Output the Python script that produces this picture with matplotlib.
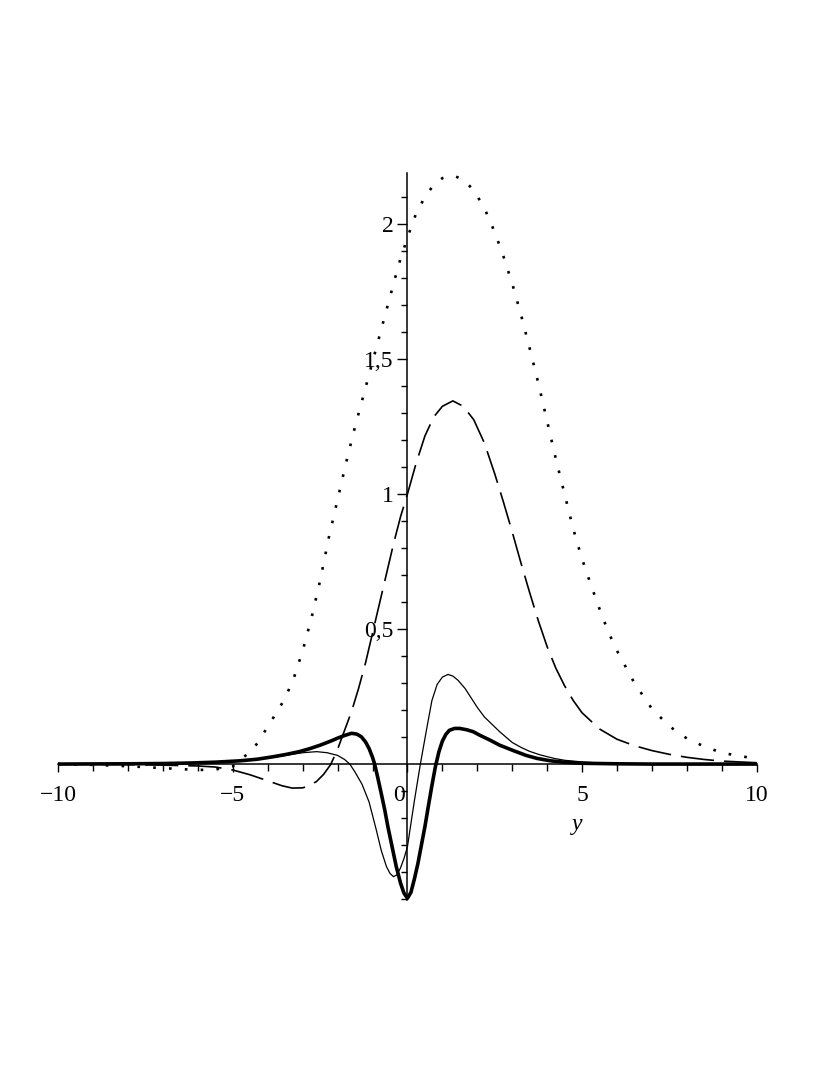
import matplotlib
matplotlib.use("Agg")
import matplotlib.pyplot as plt
import matplotlib.transforms as mtransforms

plt.rcParams.update({"font.family": "Liberation Serif", "font.size": 17})

# dotted curve
x_dot = [-10, -9, -8, -7, -6, -5.5, -5, -4.75, -4.5, -4.25, -4, -3.75, -3.5, -3.25,
         -3, -2.75, -2.5, -2.25, -2, -1.75, -1.5, -1.25, -1, -0.75, -0.5, -0.25,
         0, 0.25, 0.5, 0.75, 1, 1.3, 1.6, 1.9, 2.2, 2.5, 2.75, 3, 3.25, 3.5, 3.75,
         4, 4.25, 4.5, 4.75, 5, 5.25, 5.5, 5.75, 6, 6.5, 7, 7.5, 8, 8.5, 9, 9.5, 10]
y_dot = [0.0, -0.003, -0.008, -0.015, -0.022, -0.02, -0.008, 0.02, 0.045, 0.085,
         0.14, 0.19, 0.245, 0.32, 0.42, 0.54, 0.68, 0.84, 0.98, 1.12, 1.25, 1.37,
         1.49, 1.61, 1.73, 1.85, 1.95, 2.04, 2.10, 2.145, 2.17, 2.18, 2.165, 2.125,
         2.06, 1.97, 1.88, 1.78, 1.665, 1.54, 1.41, 1.27, 1.13, 1.0, 0.87, 0.76,
         0.665, 0.575, 0.49, 0.42, 0.30, 0.205, 0.14, 0.095, 0.065, 0.042, 0.03, 0.02]

# dashed curve
x_dash = [-10, -8, -7, -6, -5.5, -5, -4.5, -4, -3.6, -3.3, -3.0, -2.8, -2.6, -2.4,
          -2.2, -2.0, -1.8, -1.6, -1.4, -1.2, -1.0, -0.8, -0.6, -0.4, -0.2, 0, 0.25,
          0.5, 0.75, 1.0, 1.3, 1.6, 1.9, 2.2, 2.5, 2.75, 3.0, 3.25, 3.5, 3.75, 4.0,
          4.25, 4.5, 4.75, 5.0, 5.5, 6, 6.5, 7, 7.5, 8, 8.5, 9, 10]
y_dash = [0.0, -0.002, -0.004, -0.007, -0.011, -0.022, -0.04, -0.062, -0.08, -0.089,
          -0.088, -0.08, -0.064, -0.038, -0.002, 0.055, 0.125, 0.195, 0.28, 0.375,
          0.485, 0.595, 0.705, 0.815, 0.915, 1.0, 1.115, 1.215, 1.285, 1.325, 1.345,
          1.325, 1.275, 1.19, 1.075, 0.97, 0.86, 0.745, 0.635, 0.53, 0.435, 0.355,
          0.29, 0.235, 0.19, 0.13, 0.092, 0.068, 0.05, 0.036, 0.025, 0.017, 0.011,
          0.005]

# thin solid curve
x_thin = [-10, -8, -7, -6, -5, -4.5, -4, -3.5, -3.0, -2.6, -2.3, -2.0, -1.8, -1.65,
          -1.5, -1.3, -1.1, -0.9, -0.75, -0.6, -0.5, -0.4, -0.3, -0.2, -0.1, 0, 0.1,
          0.2, 0.37, 0.55, 0.7, 0.85, 1.0, 1.16, 1.3, 1.45, 1.65, 1.8, 2.0, 2.2, 2.4,
          2.64, 3.0, 3.25, 3.5, 3.8, 4.2, 4.5, 5, 5.5, 6, 7, 8, 10]
y_thin = [0.0, 0.001, 0.002, 0.005, 0.01, 0.015, 0.022, 0.032, 0.042, 0.046, 0.042,
          0.032, 0.017, 0.0, -0.03, -0.075, -0.14, -0.24, -0.32, -0.38, -0.405,
          -0.417, -0.41, -0.385, -0.35, -0.306, -0.22, -0.135, 0.0, 0.13, 0.235,
          0.295, 0.322, 0.332, 0.326, 0.31, 0.28, 0.25, 0.21, 0.175, 0.15, 0.12,
          0.08, 0.062, 0.047, 0.034, 0.021, 0.014, 0.008, 0.004, 0.002, 0.001, 0.0, 0.0]

# thick solid curve
x_thick = [-10, -8, -7, -6.2, -5.5, -4.8, -4.3, -3.85, -3.5, -3.1, -2.8, -2.5, -2.2,
           -2.0, -1.8, -1.6, -1.45, -1.32, -1.2, -1.1, -1.0, -0.94, -0.85, -0.75,
           -0.65, -0.56, -0.45, -0.32, -0.2, -0.1, 0, 0.1, 0.2, 0.3, 0.4, 0.5, 0.6,
           0.7, 0.8, 0.9, 1.0, 1.1, 1.2, 1.35, 1.5, 1.7, 1.88, 2.1, 2.36, 2.64,
           3.05, 3.4, 3.71, 4.1, 4.48, 5, 6, 7, 10]
y_thick = [0.0, 0.001, 0.002, 0.004, 0.007, 0.012, 0.018, 0.027, 0.035, 0.046, 0.057,
           0.070, 0.085, 0.096, 0.106, 0.114, 0.111, 0.101, 0.082, 0.058, 0.025, 0.0,
           -0.05, -0.109, -0.17, -0.232, -0.3, -0.38, -0.44, -0.478, -0.497, -0.475,
           -0.425, -0.368, -0.3, -0.232, -0.155, -0.08, -0.01, 0.045, 0.085, 0.11,
           0.125, 0.132, 0.132, 0.127, 0.12, 0.105, 0.089, 0.07, 0.049, 0.032, 0.021,
           0.012, 0.007, 0.003, 0.001, 0.0, 0.0]

x_major = [-10, -5, 0, 5, 10]
x_major_labels = ["\u221210", "\u22125", "0", "5", "10"]
y_major = [0.5, 1, 1.5, 2]
y_major_labels = ["0,5", "1", "1,5", "2"]

fig = plt.figure(figsize=(8.3, 10.75), dpi=100)
ax = fig.add_axes([0.0702, 0.1624, 0.8414, 0.6769])

ax.plot(x_dot, y_dot, color="black", lw=1.9, linestyle=(0, (1, 5.0)))
ax.plot(x_dash, y_dash, color="black", lw=1.2, linestyle=(0, (20, 6)))
ax.plot(x_thin, y_thin, color="black", lw=0.9)
ax.plot(x_thick, y_thick, color="black", lw=2.6)

ax.set_xlim(-10, 10)
ax.set_ylim(-0.505, 2.19)

for s in ["top", "right"]:
    ax.spines[s].set_visible(False)
ax.spines["left"].set_position(("data", 0))
ax.spines["bottom"].set_position(("data", 0))
ax.spines["left"].set_linewidth(1.1)
ax.spines["bottom"].set_linewidth(1.1)

ax.set_xticks(x_major)
ax.set_xticklabels(x_major_labels)
ax.set_xticks(range(-10, 11), minor=True)
ax.set_yticks(y_major)
ax.set_yticklabels(y_major_labels)
ax.set_yticks([v / 10 for v in range(-5, 22) if v != 0], minor=True)

ax.tick_params(axis="x", which="major", direction="out", length=6, width=1.0, pad=9)
ax.tick_params(axis="x", which="minor", direction="out", length=5, width=1.0)
ax.tick_params(axis="y", which="major", direction="out", length=7, width=1.0, pad=3)
ax.tick_params(axis="y", which="minor", direction="out", length=4, width=1.0)

# shift the "0" label left of the vertical axis
for lab in ax.get_xticklabels():
    if lab.get_text() == "0":
        lab.set_horizontalalignment("right")
        lab.set_transform(lab.get_transform() + mtransforms.ScaledTranslation(-3 / 100, 0, fig.dpi_scale_trans))

ax.text(4.85, -0.222, "y", style="italic", ha="center", va="center", fontsize=17)

fig.savefig("out.png", dpi=100)
